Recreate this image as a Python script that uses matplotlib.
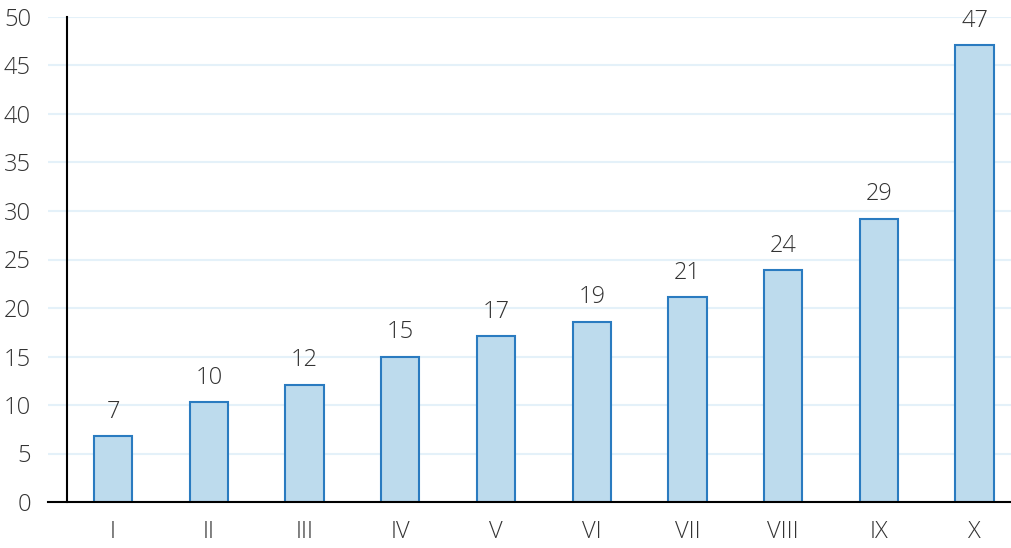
import matplotlib.pyplot as plt
import numpy as np

# data
categories = ["I", "II", "III", "IV", "V", "VI", "VII", "VIII", "IX", "X"]
values = [6.8, 10.3, 12.1, 15.0, 17.1, 18.6, 21.1, 23.9, 29.2, 47.1]
labels = ["7", "10", "12", "15", "17", "19", "21", "24", "29", "47"]
yticks = [0, 5, 10, 15, 20, 25, 30, 35, 40, 45, 50]

plt.rcParams['font.family'] = ['Open Sans', 'DejaVu Sans']
text_color = "#333333"

fig = plt.figure(figsize=(10.11, 5.48), dpi=100)
ax = fig.add_axes([48 / 1011, 46 / 548, 963 / 1011, 485 / 548])

x = np.arange(len(categories))
ax.bar(x, values, width=0.4, color="#bddbed", edgecolor="#2a7bc0", linewidth=1.5, zorder=3)

for xi, v, lab in zip(x, values, labels):
    ax.annotate(lab, (xi, v), xytext=(0, 9), textcoords="offset points",
                ha="center", va="bottom", fontsize=17, color=text_color, fontweight="light")

ax.set_xlim(-0.68, 9.38)
ax.set_ylim(0, 50)
ax.set_yticks(yticks)
ax.set_xticks(x)
ax.set_xticklabels(categories)

ax.yaxis.grid(True, color="#e4f1f9", linewidth=1.5, zorder=0)
ax.set_axisbelow(True)

for s in ["top", "right"]:
    ax.spines[s].set_visible(False)
ax.spines["left"].set_position(("data", -0.48))
ax.spines["left"].set_linewidth(1.5)
ax.spines["left"].set_zorder(4)
ax.spines["bottom"].set_linewidth(1.5)
ax.spines["bottom"].set_zorder(4)

ax.tick_params(axis="y", length=0, pad=26, labelsize=17, labelcolor=text_color)
ax.tick_params(axis="x", length=0, pad=13, labelsize=17, labelcolor=text_color)
for t in ax.get_xticklabels() + ax.get_yticklabels():
    t.set_fontweight("light")

fig.savefig("out.png", dpi=100)
